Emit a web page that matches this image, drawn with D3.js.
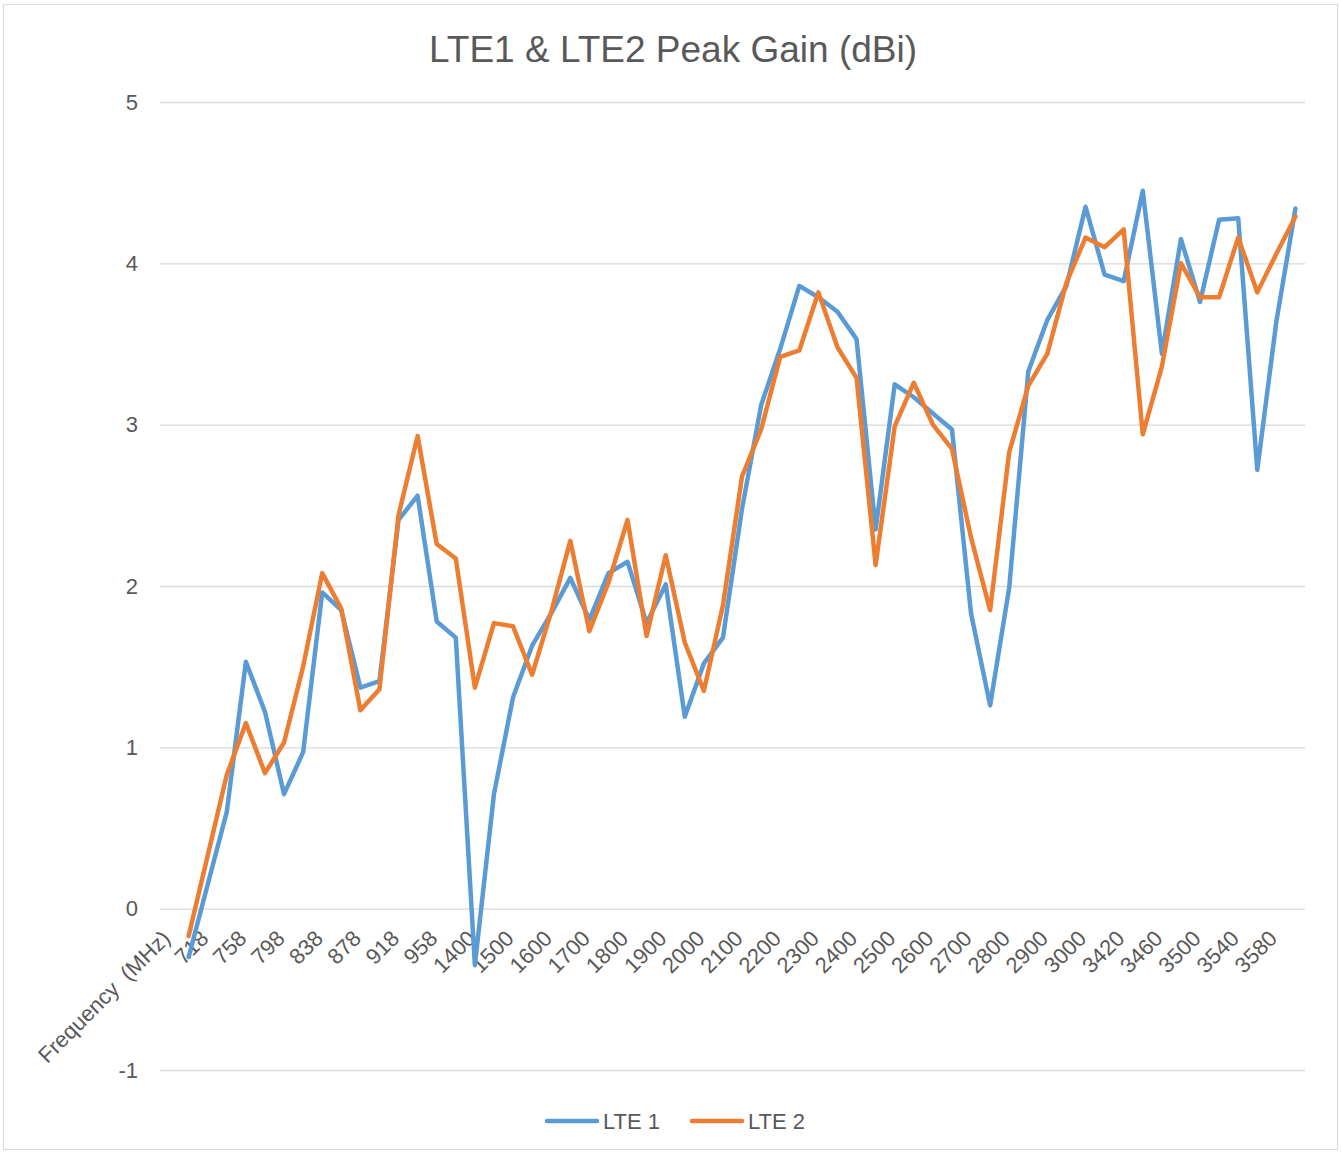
<!DOCTYPE html>
<html>
<head>
<meta charset="utf-8">
<script src="https://cdn.jsdelivr.net/npm/d3@7"></script>
<style>
  html, body { margin: 0; padding: 0; background: #fff; }
  svg { display: block; font-family: "Liberation Sans", Arial, sans-serif; }
</style>
</head>
<body>
<svg id="chart" width="1341" height="1153"></svg>
<script>
// ---- data ----
const categories = ["Frequency  (MHz)",
  "698","718","738","758","778","798","818","838","858","878","898","918","938","958","960",
  "1400","1450","1500","1550","1600","1650","1700","1750","1800","1850","1900","1950","2000","2050",
  "2100","2150","2200","2250","2300","2350","2400","2450","2500","2550","2600","2650","2700","2750",
  "2800","2850","2900","2950","3000","3400",
  "3420","3440","3460","3480","3500","3520","3540","3560","3580","3600"];
const lte1 = [null,
  -0.30, 0.15, 0.60, 1.53, 1.22, 0.71, 0.97, 1.96, 1.85, 1.37, 1.41, 2.41, 2.56, 1.78, 1.68,
  -0.35, 0.71, 1.31, 1.63, 1.83, 2.05, 1.79, 2.08, 2.15, 1.77, 2.01, 1.19, 1.52, 1.68,
  2.48, 3.12, 3.47, 3.86, 3.79, 3.70, 3.53, 2.35, 3.25, 3.17, 3.07, 2.97, 1.83, 1.26,
  1.99, 3.33, 3.65, 3.86, 4.35, 3.93,
  3.89, 4.45, 3.44, 4.15, 3.76, 4.27, 4.28, 2.72, 3.64, 4.34];
const lte2 = [null,
  -0.17, 0.33, 0.83, 1.15, 0.84, 1.03, 1.50, 2.08, 1.86, 1.23, 1.36, 2.44, 2.93, 2.26, 2.17,
  1.37, 1.77, 1.75, 1.45, 1.84, 2.28, 1.72, 2.02, 2.41, 1.69, 2.19, 1.65, 1.35, 1.88,
  2.68, 2.97, 3.42, 3.46, 3.82, 3.48, 3.29, 2.13, 2.99, 3.26, 3.00, 2.85, 2.30, 1.85,
  2.83, 3.24, 3.44, 3.88, 4.16, 4.10,
  4.21, 2.94, 3.36, 4.00, 3.79, 3.79, 4.16, 3.82, 4.06, 4.29];
const yTicks = [-1, 0, 1, 2, 3, 4, 5];
const seriesNames = ["LTE 1", "LTE 2"];
const title = "LTE1 & LTE2 Peak Gain (dBi)";

// ---- layout ----
const W = 1341, H = 1153;
const plot = { left: 160, right: 1305, top: 102, bottom: 1070 };
const colors = ["#5b9bd5", "#ed7d31"];
const textColor = "#595959";
const gridColor = "#d9d9d9";
const fontFamily = "'Liberation Sans', Arial, sans-serif";

const svg = d3.select("#chart");

svg.append("rect")
  .attr("x", 3.5).attr("y", 4.5).attr("width", W - 7).attr("height", H - 8)
  .attr("fill", "#fff").attr("stroke", gridColor).attr("stroke-width", 1);

const x = d3.scaleBand().domain(categories).range([plot.left, plot.right]).padding(0);
const y = d3.scaleLinear().domain([-1, 5]).range([plot.bottom, plot.top]);
const cx = c => x(c) + x.bandwidth() / 2;

// gridlines
svg.append("g").selectAll("line").data(yTicks).join("line")
  .attr("x1", plot.left).attr("x2", plot.right)
  .attr("y1", d => y(d) + 0.5).attr("y2", d => y(d) + 0.5)
  .attr("stroke", gridColor).attr("stroke-width", 1.3);

// y axis labels
const yAxis = d3.axisLeft(y).tickValues(yTicks).tickSize(0).tickPadding(0).tickFormat(d3.format("d"));
const yg = svg.append("g").attr("transform", `translate(${plot.left - 22},0)`).call(yAxis);
yg.select(".domain").remove();
yg.selectAll("text").attr("fill", textColor).attr("font-size", 22)
  .attr("font-family", fontFamily)
  .text(d => d < 0 ? "-" + Math.abs(d) : String(d));

// x axis labels (every other category)
const xAxis = d3.axisBottom(x).tickValues(categories.filter((c, i) => i % 2 === 0)).tickSize(0).tickPadding(0);
const xg = svg.append("g").attr("transform", `translate(0,${y(0)})`).call(xAxis);
xg.select(".domain").remove();
xg.selectAll("text")
  .attr("fill", textColor).attr("font-size", 22)
  .attr("font-family", fontFamily)
  .attr("text-anchor", "end")
  .attr("dy", null)
  .attr("y", null)
  .attr("transform", "translate(-2,27) rotate(-45)")
  .attr("dominant-baseline", "middle")
  .style("white-space", "pre")
  .attr("xml:space", "preserve");

// lines
const series = [lte1, lte2];
const line = d3.line()
  .defined(d => d.v !== null)
  .x(d => cx(d.c))
  .y(d => y(d.v));
svg.append("g").selectAll("path").data(series).join("path")
  .attr("d", s => line(categories.map((c, i) => ({ c, v: s[i] }))))
  .attr("fill", "none")
  .attr("stroke", (s, i) => colors[i])
  .attr("stroke-width", 4.5)
  .attr("stroke-linejoin", "round")
  .attr("stroke-linecap", "round");

// title
svg.append("text")
  .attr("x", 673).attr("y", 62)
  .attr("text-anchor", "middle")
  .attr("fill", textColor)
  .attr("font-size", 37)
  .text(title);

// legend
const legend = svg.append("g");
const legendX = [547, 692];
seriesNames.forEach((name, i) => {
  legend.append("line")
    .attr("x1", legendX[i]).attr("x2", legendX[i] + 50)
    .attr("y1", 1121).attr("y2", 1121)
    .attr("stroke", colors[i]).attr("stroke-width", 4.5).attr("stroke-linecap", "round");
  legend.append("text")
    .attr("x", legendX[i] + 56).attr("y", 1129)
    .attr("fill", textColor).attr("font-size", 22)
    .text(name);
});
</script>
</body>
</html>
